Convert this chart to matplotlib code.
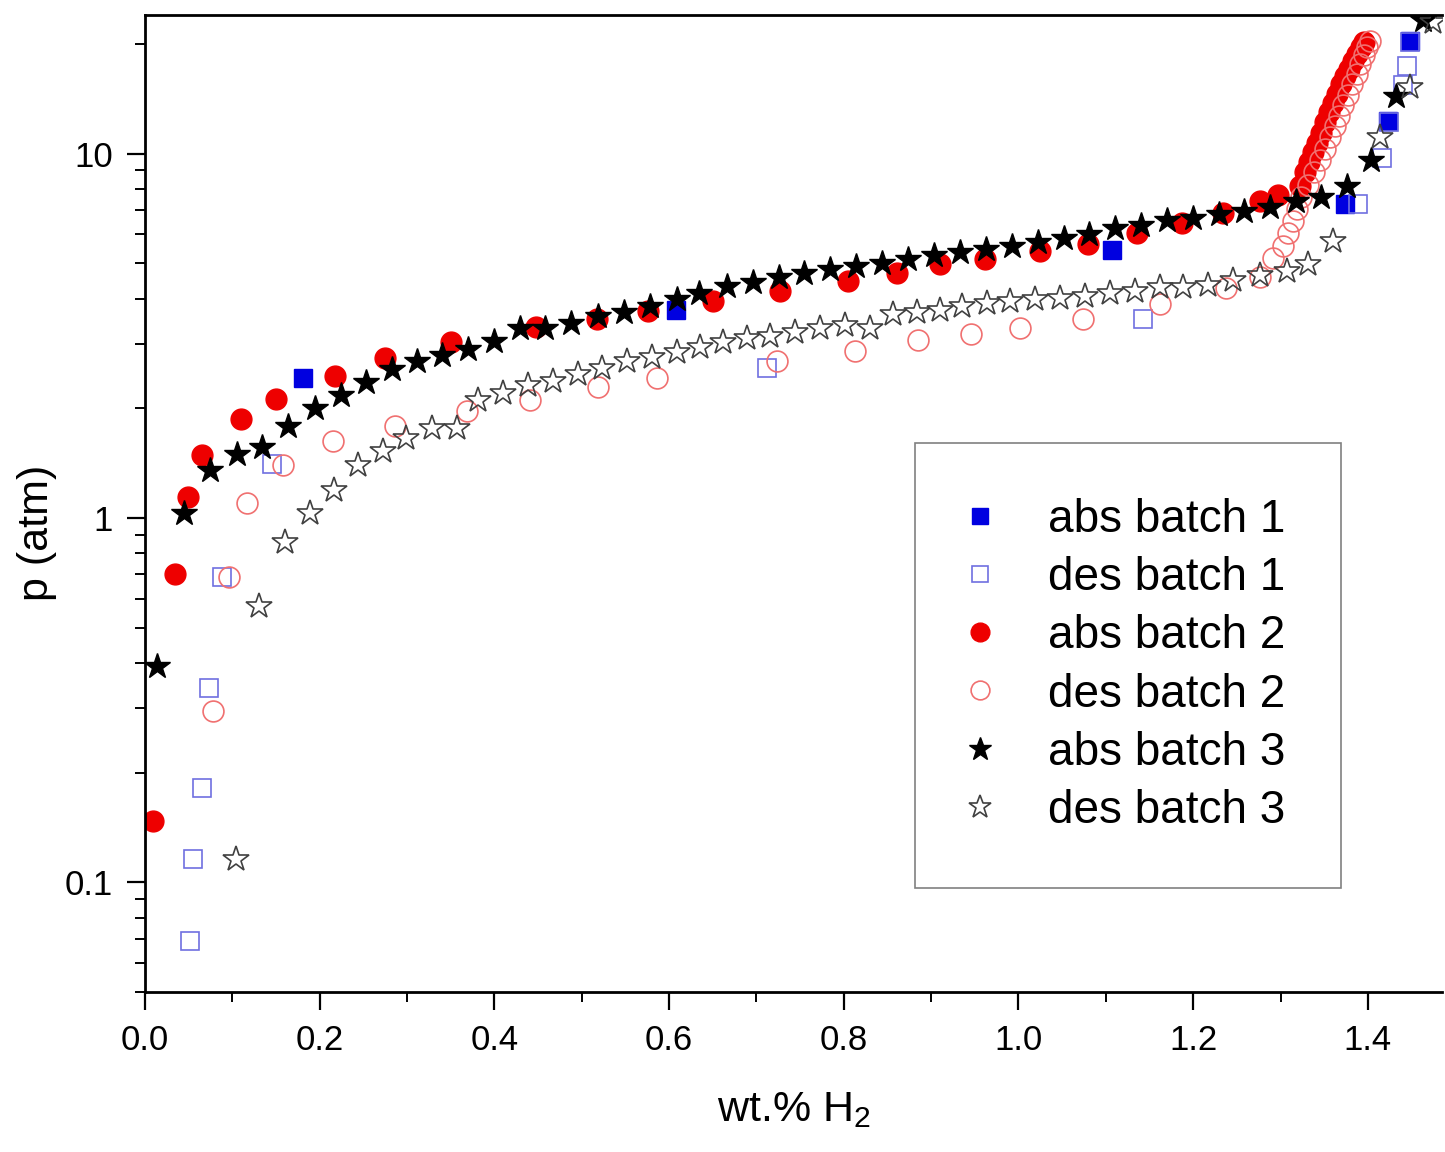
import matplotlib.pyplot as plt
from matplotlib.ticker import MultipleLocator, LogLocator, NullFormatter, FixedLocator, FixedFormatter

plt.rcParams['font.family'] = ['Liberation Sans', 'DejaVu Sans']
plt.rcParams['mathtext.default'] = 'regular'

# abs batch 1 (filled blue squares)
abs1_x = [0.181, 0.608, 1.107, 1.374, 1.423, 1.448]
abs1_p = [2.42, 3.73, 5.45, 7.29, 12.3, 20.4]

# des batch 1 (open blue squares)
des1_x = [0.052, 0.055, 0.065, 0.073, 0.088, 0.145, 0.712, 1.143, 1.389, 1.416, 1.424, 1.440, 1.445, 1.448]
des1_p = [0.069, 0.116, 0.182, 0.341, 0.689, 1.41, 2.58, 3.52, 7.29, 9.75, 12.2, 15.4, 17.4, 20.2]

# abs batch 2 (filled red circles)
abs2_x = [0.009, 0.034, 0.049, 0.065, 0.110, 0.150, 0.218, 0.275, 0.350, 0.448,
          0.517, 0.576, 0.650, 0.727, 0.805, 0.861, 0.910, 0.962, 1.025, 1.080,
          1.136, 1.187, 1.234, 1.276, 1.297, 1.322, 1.328, 1.333, 1.337, 1.342,
          1.346, 1.351, 1.355, 1.360, 1.365, 1.369, 1.374, 1.378, 1.383, 1.387,
          1.392, 1.396]
abs2_p = [0.147, 0.70, 1.14, 1.49, 1.87, 2.12, 2.45, 2.75, 3.03, 3.35,
          3.52, 3.70, 3.95, 4.20, 4.48, 4.71, 4.96, 5.15, 5.41, 5.66,
          6.07, 6.46, 6.88, 7.43, 7.71, 8.17, 8.87, 9.45, 10.1, 10.7,
          11.4, 12.2, 13.0, 13.8, 14.6, 15.5, 16.3, 17.1, 18.0, 18.8,
          19.6, 20.2]

# des batch 2 (open red circles)
des2_x = [0.078, 0.096, 0.117, 0.158, 0.215, 0.286, 0.369, 0.441, 0.519, 0.586,
          0.724, 0.813, 0.885, 0.946, 1.002, 1.074, 1.162, 1.238, 1.276, 1.291,
          1.303, 1.309, 1.314, 1.319, 1.324, 1.331, 1.338, 1.345, 1.351, 1.357,
          1.362, 1.367, 1.372, 1.377, 1.382, 1.387, 1.391, 1.396, 1.399, 1.402]
des2_p = [0.295, 0.689, 1.10, 1.40, 1.63, 1.79, 1.96, 2.10, 2.29, 2.42,
          2.70, 2.88, 3.08, 3.20, 3.33, 3.52, 3.87, 4.28, 4.57, 5.18,
          5.59, 6.07, 6.54, 7.06, 7.62, 8.22, 8.87, 9.57, 10.3, 11.1,
          11.9, 12.7, 13.6, 14.5, 15.5, 16.5, 17.6, 18.6, 19.6, 20.4]

# abs batch 3 (filled black stars)
abs3_x = [0.014, 0.045, 0.074, 0.105, 0.134, 0.164, 0.195, 0.224, 0.253, 0.283,
          0.311, 0.340, 0.370, 0.400, 0.429, 0.458, 0.488, 0.519, 0.548, 0.578,
          0.609, 0.634, 0.666, 0.696, 0.726, 0.754, 0.784, 0.814, 0.844, 0.873,
          0.903, 0.933, 0.963, 0.993, 1.022, 1.052, 1.081, 1.110, 1.140, 1.170,
          1.200, 1.230, 1.258, 1.288, 1.318, 1.346, 1.376, 1.404, 1.432, 1.463]
abs3_p = [0.392, 1.03, 1.35, 1.50, 1.57, 1.79, 2.00, 2.17, 2.36, 2.57,
          2.70, 2.80, 2.91, 3.05, 3.33, 3.33, 3.43, 3.59, 3.68, 3.82,
          4.00, 4.15, 4.34, 4.45, 4.59, 4.71, 4.83, 4.92, 5.02, 5.15,
          5.28, 5.38, 5.48, 5.58, 5.73, 5.88, 6.03, 6.26, 6.38, 6.55,
          6.67, 6.84, 6.97, 7.11, 7.43, 7.62, 8.12, 9.57, 14.4, 23.2]

# des batch 3 (open stars)
des3_x = [0.104, 0.131, 0.160, 0.189, 0.217, 0.244, 0.272, 0.299, 0.329, 0.357,
          0.381, 0.410, 0.438, 0.467, 0.496, 0.523, 0.552, 0.580, 0.609, 0.635,
          0.662, 0.689, 0.716, 0.744, 0.773, 0.801, 0.830, 0.856, 0.884, 0.910,
          0.935, 0.964, 0.990, 1.019, 1.047, 1.076, 1.105, 1.133, 1.162, 1.188,
          1.217, 1.246, 1.276, 1.307, 1.331, 1.360, 1.414, 1.448, 1.475]
des3_p = [0.116, 0.573, 0.859, 1.03, 1.19, 1.40, 1.53, 1.66, 1.76, 1.76,
          2.10, 2.20, 2.31, 2.38, 2.49, 2.58, 2.69, 2.77, 2.86, 2.95,
          3.03, 3.12, 3.16, 3.24, 3.31, 3.39, 3.31, 3.63, 3.68, 3.73,
          3.82, 3.90, 3.95, 4.00, 4.02, 4.07, 4.15, 4.20, 4.29, 4.31,
          4.37, 4.51, 4.65, 4.77, 4.99, 5.77, 11.1, 15.2, 22.9]

fig = plt.figure(figsize=(14.45, 11.52), dpi=100)
ax = fig.add_axes([0.1003, 0.1389, 0.8977, 0.8481])

ax.plot(abs1_x, abs1_p, 's', color='#0000e0', ms=13, mec='#0000e0', label='abs batch 1', ls='none')
ax.plot(des1_x, des1_p, 's', mfc='none', mec='#7070e0', ms=13, mew=1.2, label='des batch 1', ls='none')
ax.plot(abs2_x, abs2_p, 'o', color='#ee0000', ms=15, label='abs batch 2', ls='none')
ax.plot(des2_x, des2_p, 'o', mfc='none', mec='#f07070', ms=15, mew=1.2, label='des batch 2', ls='none')
ax.plot(abs3_x, abs3_p, '*', color='black', ms=19, label='abs batch 3', ls='none')
ax.plot(des3_x, des3_p, '*', mfc='none', mec='#404040', ms=19, mew=1.2, label='des batch 3', ls='none')

ax.set_yscale('log')
ax.set_xlim(0, 1.485)
ax.set_ylim(0.05, 24)

ax.xaxis.set_major_locator(MultipleLocator(0.2))
ax.xaxis.set_minor_locator(MultipleLocator(0.1))
ax.xaxis.set_major_formatter(plt.FuncFormatter(lambda v, pos: f'{v:.1f}'))
ax.yaxis.set_major_locator(FixedLocator([0.1, 1, 10]))
ax.yaxis.set_major_formatter(FixedFormatter(['0.1', '1', '10']))
ax.yaxis.set_minor_locator(LogLocator(base=10, subs=range(2, 10)))
ax.yaxis.set_minor_formatter(NullFormatter())

ax.tick_params(which='major', direction='out', length=13, width=1.6, labelsize=25, pad=10)
ax.tick_params(which='minor', direction='out', length=7, width=1.4)
for s in ['left', 'bottom', 'top']:
    ax.spines[s].set_linewidth(2)
ax.spines['right'].set_visible(False)

ax.set_xlabel('wt.% H$_2$', fontsize=31)
ax.xaxis.set_label_coords(0.5, -0.1)
ax.set_ylabel('p (atm)', fontsize=31)
ax.yaxis.set_label_coords(-0.068, 0.47)

leg = ax.legend(loc='upper left', bbox_to_anchor=(0.594, 0.562), fontsize=33,
                frameon=True, fancybox=False, edgecolor='#808080', framealpha=1,
                borderpad=1.2, labelspacing=0.31, handletextpad=1.3, borderaxespad=0,
                numpoints=1, handlelength=0.4, markerscale=0.9)
leg.get_frame().set_linewidth(1.2)

plt.savefig('out.png', dpi=100)
plt.close()
